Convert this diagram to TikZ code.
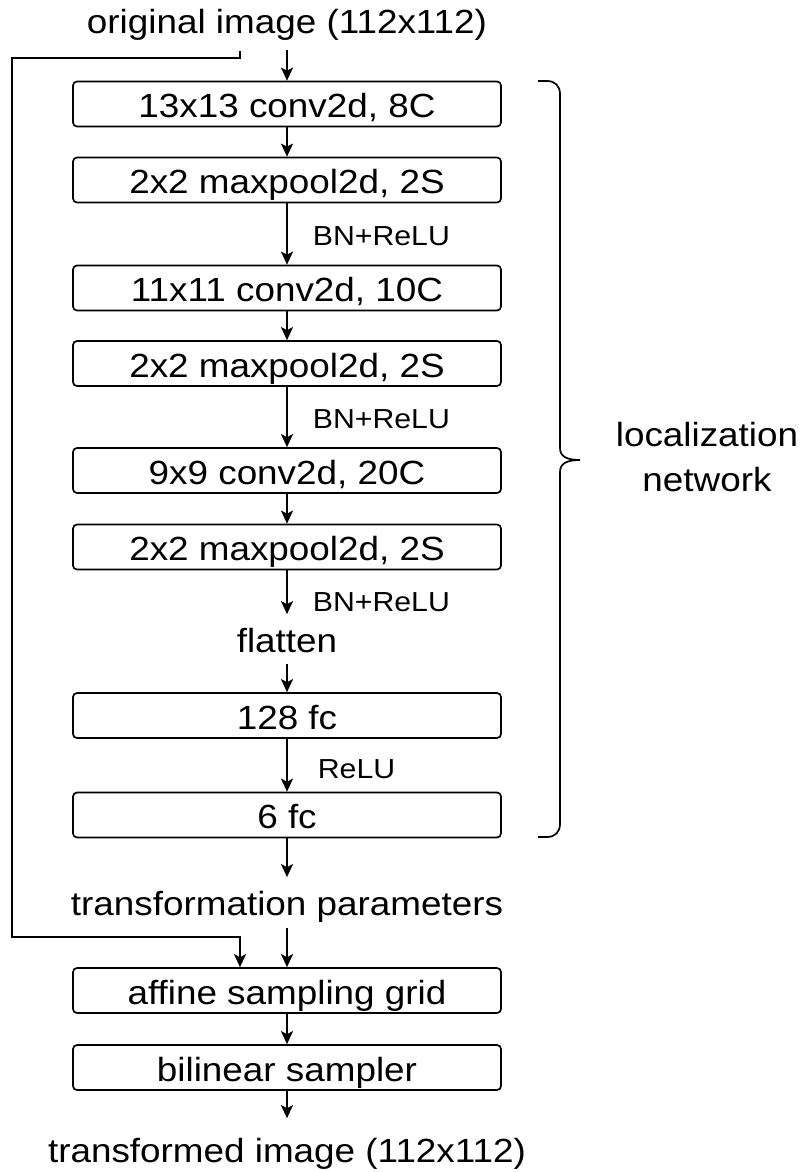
\documentclass[tikz,border=0pt]{standalone}
\usepackage{fontspec}
\setmainfont{Liberation Sans}[FakeStretch=1.10,Ligatures=NoCommon]
\usepackage{tikz}
\usetikzlibrary{arrows.meta,positioning,calc}
\definecolor{ink}{HTML}{000000}

\begin{document}
\begin{tikzpicture}[x=1pt,y=-1pt,line width=1.7pt,ink,
  font=\fontsize{33.5}{45}\selectfont,
  layer/.style={draw,rounded corners=4pt,minimum width=428pt,minimum height=45pt,
    inner sep=0pt,text height=28pt,text depth=1pt},
  word/.style={inner sep=0pt,text height=25pt,text depth=7pt},
  act/.style={inner sep=0pt,anchor=base west,font=\fontsize{27.5}{32}\selectfont},
  arr/.style={-{Stealth[length=13pt,width=12pt,inset=3pt]}}]
\useasboundingbox (0,0) rectangle (800,1172);
% input and localization layers
\node[word,anchor=base] (title) at (287,34) {original image (112x112)};
\node[layer] (c1) at (287,104) {13x13 conv2d, 8C};
\node[layer] (p1) at (287,180) {2x2 maxpool2d, 2S};
\node[layer] (c2) at (287,288) {11x11 conv2d, 10C};
\node[layer] (p2) at (287,363.5) {2x2 maxpool2d, 2S};
\node[layer] (c3) at (287,470.5) {9x9 conv2d, 20C};
\node[layer] (p3) at (287,547) {2x2 maxpool2d, 2S};
\node[word,anchor=base] (flat) at (287,652) {flatten};
\node[layer] (fc1) at (287,715.5) {128 fc};
\node[layer] (fc2) at (287,815) {6 fc};
% sampler part
\node[word,anchor=base] (theta) at (287,915) {transformation parameters};
\node[layer] (grid) at (287,990.5) {affine sampling grid};
\node[layer] (samp) at (287,1067.5) {bilinear sampler};
\node[word,anchor=base] (out) at (287,1162) {transformed image (112x112)};
% activations
\node[act] (bn1) at (312,245) {BN+ReLU};
\node[act] (bn2) at (312,428) {BN+ReLU};
\node[act] (bn3) at (312,611) {BN+ReLU};
\node[act] (relu) at (317,778) {ReLU};
% main flow
\draw[arr,shorten <=8pt] (title) -- (c1);
\draw[arr] (c1) -- (p1);
\draw[arr] (p1) -- (c2);
\draw[arr] (c2) -- (p2);
\draw[arr] (p2) -- (c3);
\draw[arr] (c3) -- (p3);
\draw[arr,shorten >=12pt] (p3) -- (flat);
\draw[arr,shorten <=4pt] (flat) -- (fc1);
\draw[arr] (fc1) -- (fc2);
\draw[arr,shorten >=12pt] (fc2) -- (theta);
\draw[arr,shorten <=5pt] (theta) -- (grid);
\draw[arr] (grid) -- (samp);
\draw[arr,shorten >=18pt] (samp) -- (out);
% image bypass to the grid
\coordinate (tap) at (240,51);
\draw[arr] (tap) -- ++(0,7) -| (12,937) -| (grid.north -| tap);
% brace
\coordinate (tip) at (580,460);
\draw (538,81) -- (547,81) .. controls (555,81) and (560,86) .. (560,94)
  -- (560,448) .. controls (560,456) and (566,460) .. (tip)
  .. controls (566,460) and (560,464) .. (560,472)
  -- (560,824) .. controls (560,832) and (555,837) .. (547,837) -- (538,837);
\node[anchor=north west,align=center,inner sep=0pt] (loc) at (615,421) {localization\\network};
\end{tikzpicture}
\end{document}
